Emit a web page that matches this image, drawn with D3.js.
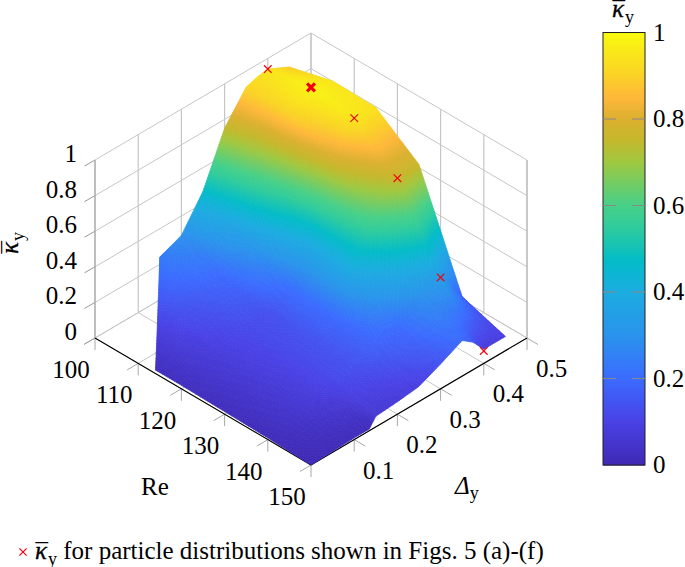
<!DOCTYPE html>
<html><head><meta charset="utf-8">
<script src="https://cdn.jsdelivr.net/npm/d3@7"></script>
<style>html,body{margin:0;background:#fff}svg{display:block}text{font-family:"Liberation Serif",serif;fill:#000}</style>
</head><body><svg id="c" width="685" height="567"></svg>
<script>
// ---- data ----
const reTicks=[100,110,120,130,140,150];
const deltaTicks=[0.1,0.2,0.3,0.4,0.5];
const kappaTicks=[0,0.2,0.4,0.6,0.8,1];
const tickLabels=v=>String(v);
const surfaceRe=[100,110,114,120,130,140,150];
const surfaceDelta=[
 [.15,.16,.17,.18,.2,.25,.3,.35,.375,.4,.45],
 [.043,.1,.135,.16,.2,.25,.3,.35,.375,.4,.45],
 [0,.1,.135,.16,.2,.25,.3,.35,.375,.4,.45],
 [0,.1,.135,.16,.2,.25,.3,.35,.375,.4,.45],
 [0,.1,.135,.16,.2,.25,.3,.35,.375,.4,.45],
 [0,.1,.135,.16,.2,.25,.3,.35,.375,.4,.45],
 [0,.1,.135,.15,.2,.25,.3,.35,.375,.4,.45]];
const surfaceKappa=[
 [.24,.25,.26,.27,.29,.467,.75,.91,.93,.94,.88],
 [.065,.13,.15,.17,.19,.32,.6,.9,.95,.98,.944],
 [.02,.11,.13,.15,.17,.27,.52,.87,.93,.97,.942],
 [.02,.09,.11,.12,.13,.2,.42,.78,.89,.95,.938],
 [.015,.08,.1,.12,.14,.2,.43,.6,.68,.755,.76],
 [.01,.07,.1,.12,.14,.18,.2,.28,.31,.34,.16],
 [.0,.01,.01,.06,.07,.085,.14,.2,.155,.08,.08]];
const markerRe=[150,140,130,120,110,100];
const markerDelta=[.4,.4,.4,.4,.4,.4];
const markerKappa=[.07,.34,.755,.95,.98,.94];
const boldMarkerRe=110;
const cmapStops=[0,.1,.2,.3,.4,.47,.55,.6,.7,.75,.8,.85,.9,1];
const cmapColors=["#3f2ab5","#4a42e6","#3b6cff","#2a94ec","#1cace0","#03bcc8","#30cc9c","#48d088","#a0c840","#c4b82c","#dcb030","#ffb83a","#fad226","#f9fb0e"];

// ---- scales ----
const ux=d3.scaleLinear().domain([150,100]).range([0,1]);
const vx=d3.scaleLinear().domain([0,.5]).range([0,1]);
const zy=d3.scaleLinear().domain([0,1]).range([0,178]);
const color=d3.scaleLinear().domain(cmapStops).range(cmapColors).clamp(true);
const px=(re,d)=>311+216*(vx(d)-ux(re));
const py=(re,d,k)=>465-127*(ux(re)+vx(d))-zy(k);
const svg=d3.select("#c");
const line=(x1,y1,x2,y2,col,w)=>svg.append("line").attr("x1",x1).attr("y1",y1).attr("x2",x2).attr("y2",y2).attr("stroke",col).attr("stroke-width",w);
const G="#c6c6c6";

// walls & floor
kappaTicks.forEach(k=>{
 line(px(100,0),py(100,0,k),px(100,.5),py(100,.5,k),G,1);
 line(px(100,.5),py(100,.5,k),px(150,.5),py(150,.5,k),G,1);
});
reTicks.forEach(r=>{
 line(px(r,.5),py(r,.5,0),px(r,.5),py(r,.5,1),G,1.2);
 line(px(r,0),py(r,0,0),px(r,.5),py(r,.5,0),G,1);
});
[0].concat(deltaTicks).forEach(d=>{
 line(px(100,d),py(100,d,0),px(100,d),py(100,d,1),G,1.2);
 line(px(100,d),py(100,d,0),px(150,d),py(150,d,0),G,1);
});
// outward ticks
const T="#a8a8a8";
kappaTicks.forEach(k=>line(px(100,0),py(100,0,k),px(100,0)-10.5,py(100,0,k)+6,"#999",1));
reTicks.forEach(r=>{const x=px(r,0),y=py(r,0,0);line(x,y,x-11,y+6.5,T,1);line(x,y,x,y+12,T,1);});
deltaTicks.forEach(d=>{const x=px(150,d),y=py(150,d,0);line(x,y,x+11,y+6.5,T,1);line(x,y,x,y+12,T,1);});
// axes
line(px(100,0),py(100,0,0),px(150,0),py(150,0,0),"#000",1.1);
line(px(150,0),py(150,0,0),px(150,.5),py(150,.5,0),"#000",1.1);
line(px(100,0),py(100,0,0),px(100,0),py(100,0,1),"#aaa",1.2);
line(px(150,.5),py(150,.5,0),px(150,.5),py(150,.5,1),"#bbb",1.2);

// surface, painted far to near, each cell shaded finely
const gs=svg.append("g");
const lerp=(a,b,t)=>a+(b-a)*t;
for(let i=0;i<surfaceRe.length-1;i++){
 for(let j=surfaceDelta[0].length-2;j>=0;j--){
  const at=(s,t)=>{
    const re=lerp(surfaceRe[i],surfaceRe[i+1],s);
    const d=lerp(lerp(surfaceDelta[i][j],surfaceDelta[i+1][j],s),lerp(surfaceDelta[i][j+1],surfaceDelta[i+1][j+1],s),t);
    const k=lerp(lerp(surfaceKappa[i][j],surfaceKappa[i+1][j],s),lerp(surfaceKappa[i][j+1],surfaceKappa[i+1][j+1],s),t);
    return {x:px(re,d),y:py(re,d,k),k};
  };
  const ext=(p,q)=>Math.hypot(p.x-q.x,p.y-q.y);
  const Ns=Math.max(2,Math.ceil(Math.max(ext(at(0,0),at(1,0)),ext(at(0,1),at(1,1)))/3));
  const Nt=Math.max(2,Math.ceil(Math.max(ext(at(0,0),at(0,1)),ext(at(1,0),at(1,1)))/3));
  for(let a=0;a<Ns;a++)for(let b=Nt-1;b>=0;b--){
    const q=[at(a/Ns,b/Nt),at((a+1)/Ns,b/Nt),at((a+1)/Ns,(b+1)/Nt),at(a/Ns,(b+1)/Nt)];
    const c=color(d3.mean(q,p=>p.k));
    gs.append("polygon").attr("points",q.map(p=>p.x.toFixed(2)+","+p.y.toFixed(2)).join(" ")).attr("fill",c).attr("stroke",c).attr("stroke-width",.8);
  }
 }
}
// markers
const cross=(x,y,r,w)=>{line(x-r,y-r,x+r,y+r,"#f4000c",w);line(x-r,y+r,x+r,y-r,"#f4000c",w);};
markerRe.forEach((r,i)=>{
 const x=px(r,markerDelta[i]),y=py(r,markerDelta[i],markerKappa[i]);
 if(r===boldMarkerRe)cross(x,y,3.9,3.2);else cross(x,y,3.8,1.2);
});

// text
const FS=25;
const txt=(x,y,s,anchor="middle",size=FS)=>svg.append("text").attr("x",x).attr("y",y).attr("text-anchor",anchor).attr("font-size",size).text(s);
reTicks.forEach(r=>txt(px(r,0)-24,py(r,0,0)+40,tickLabels(r)));
deltaTicks.forEach(d=>txt(px(150,d)+24.5,py(150,d,0)+39,tickLabels(d)));
kappaTicks.forEach(k=>txt(77,py(100,0,k)+2,tickLabels(k),"end"));
txt(155,495,"Re");
const kappaLabel=(sel,size)=>{
 sel.append("tspan").attr("font-style","italic").attr("font-size",size).attr("stroke","#000").attr("stroke-width",.3).text("κ");
 sel.append("tspan").attr("font-size",size).attr("dx",-size*.46).attr("dy",size*.09).text("\u00AF");
 sel.append("tspan").attr("font-size",size*.72).attr("dy",size*.13).text("y");
};
const dl=svg.append("text").attr("x",455).attr("y",494).attr("font-size",FS);
dl.append("tspan").attr("font-style","italic").text("Δ");
dl.append("tspan").attr("font-size",FS*.72).attr("dy",5).text("y");
const zl=svg.append("text").attr("transform","translate(18,243) rotate(-90)").attr("text-anchor","middle");
kappaLabel(zl,FS);
const cl=svg.append("text").attr("x",612).attr("y",17);
kappaLabel(cl,FS);

// colour bar
const cb={x:603,w:42,top:32.5,bottom:465};
const cy=d3.scaleLinear().domain([0,1]).range([cb.bottom,cb.top]);
d3.range(0,1,1/216).forEach(v=>{
 svg.append("rect").attr("x",cb.x).attr("width",cb.w).attr("y",cy(v+1/216)).attr("height",cy(v)-cy(v+1/216)+.6).attr("fill",color(v));
});
svg.append("rect").attr("x",cb.x).attr("y",cb.top).attr("width",cb.w).attr("height",cb.bottom-cb.top).attr("fill","none").attr("stroke","#222").attr("stroke-width",1);
kappaTicks.forEach(k=>{
 if(k>0&&k<1){line(cb.x,cy(k),cb.x+13,cy(k),"#888",1);line(cb.x+cb.w-13,cy(k),cb.x+cb.w,cy(k),"#888",1);}
 txt(653,cy(k)+8,tickLabels(k),"start");
});

// legend
cross(23,552,3.6,1.2);
const lg=svg.append("text").attr("x",35).attr("y",559).attr("font-size",25);
kappaLabel(lg,25);
lg.append("tspan").attr("dy",-5.5).text(" for particle distributions shown in Figs. 5 (a)-(f)");
</script></body></html>
